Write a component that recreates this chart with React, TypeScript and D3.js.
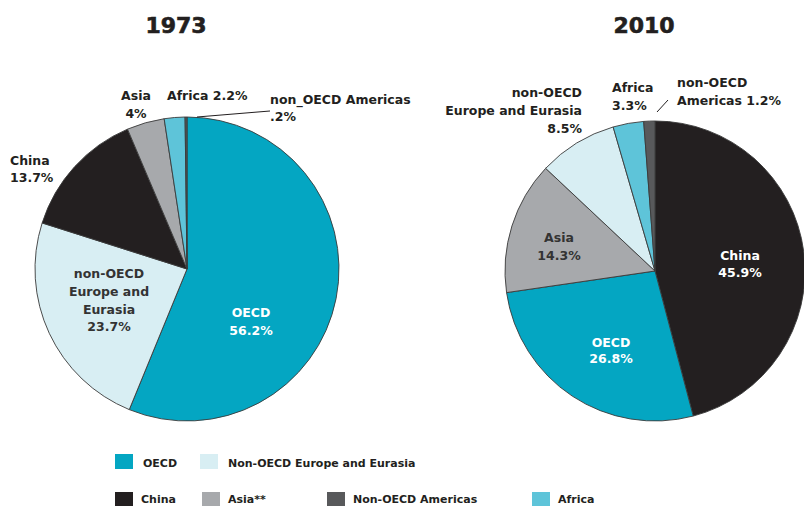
import React from 'react';
import * as d3 from 'd3';

// Data
const regions1973 = ['OECD', 'Non-OECD Europe and Eurasia', 'China', 'Asia', 'Africa', 'Non-OECD Americas'];
const shares1973 = [56.2, 23.7, 13.7, 4, 2.2, 0.2];

const regions2010 = ['China', 'OECD', 'Asia', 'Non-OECD Europe and Eurasia', 'Africa', 'Non-OECD Americas'];
const shares2010 = [45.9, 26.8, 14.3, 8.5, 3.3, 1.2];

const legendRow1 = ['OECD', 'Non-OECD Europe and Eurasia'];
const legendRow2 = ['China', 'Asia', 'Non-OECD Americas', 'Africa'];
const legendText: Record<string, string> = { Asia: 'Asia**' };

const colors: Record<string, string> = {
  'OECD': '#04a6c2',
  'Non-OECD Europe and Eurasia': '#d8eef3',
  'China': '#231f20',
  'Asia': '#a7a9ac',
  'Non-OECD Americas': '#58595b',
  'Africa': '#5ec4d9',
};

interface Label {
  lines: string[];
  dx: number;
  dy: number[];
  anchor: 'start' | 'middle' | 'end';
  fill: string;
}

const labels1973: Label[] = [
  { lines: ['Asia', '4%'], dx: -51, dy: [-169, -151], anchor: 'middle', fill: '#231f20' },
  { lines: ['Africa 2.2%'], dx: -20, dy: [-169], anchor: 'start', fill: '#231f20' },
  { lines: ['non_OECD Americas', '.2%'], dx: 83, dy: [-165, -148], anchor: 'start', fill: '#231f20' },
  { lines: ['China', '13.7%'], dx: -177, dy: [-104, -87], anchor: 'start', fill: '#231f20' },
  { lines: ['non-OECD', 'Europe and', 'Eurasia', '23.7%'], dx: -78, dy: [9, 27, 45, 62], anchor: 'middle', fill: '#333' },
  { lines: ['OECD', '56.2%'], dx: 64, dy: [48, 66], anchor: 'middle', fill: '#ffffff' },
];

const labels2010: Label[] = [
  { lines: ['non-OECD', 'Europe and Eurasia', '8.5%'], dx: -73, dy: [-174, -156, -138], anchor: 'end', fill: '#231f20' },
  { lines: ['Africa', '3.3%'], dx: -43, dy: [-179, -161], anchor: 'start', fill: '#231f20' },
  { lines: ['non-OECD', 'Americas 1.2%'], dx: 22, dy: [-184, -166], anchor: 'start', fill: '#231f20' },
  { lines: ['Asia', '14.3%'], dx: -96, dy: [-29, -11], anchor: 'middle', fill: '#333' },
  { lines: ['China', '45.9%'], dx: 85, dy: [-11, 6], anchor: 'middle', fill: '#ffffff' },
  { lines: ['OECD', '26.8%'], dx: -44, dy: [76, 92], anchor: 'middle', fill: '#ffffff' },
];

const FONT = 'DejaVu Sans, sans-serif';

const pie = d3.pie<number>().sort(null).value(d => d);

interface PieProps {
  title: string;
  regions: string[];
  shares: number[];
  cx: number;
  cy: number;
  r: number;
  labels: Label[];
  leader: [number, number, number, number]; // offsets from centre
}

const Pie: React.FC<PieProps> = ({ title, regions, shares, cx, cy, r, labels, leader }) => {
  const arc = d3.arc<d3.PieArcDatum<number>>().innerRadius(0).outerRadius(r);
  const arcs = pie(shares);
  return (
    <g>
      <text x={cx - 11} y={33} textAnchor="middle" fontFamily={FONT} fontWeight="bold"
        fontSize={22} fill="#231f20" stroke="#231f20" strokeWidth={0.6}>{title}</text>
      <g transform={`translate(${cx},${cy})`}>
        {arcs.map((a, i) => (
          <path key={i} d={arc(a) || ''} fill={colors[regions[i]]} stroke="#3a3a3a" strokeWidth={0.9} />
        ))}
        <line x1={leader[0]} y1={leader[1]} x2={leader[2]} y2={leader[3]} stroke="#231f20" strokeWidth={1} />
        {labels.map((l, i) => (
          <text key={i} textAnchor={l.anchor} fontFamily={FONT} fontWeight="bold" fontSize={12.5}
            fill={l.fill}>
            {l.lines.map((s, j) => (
              <tspan key={j} x={l.dx} y={l.dy[j]}>{s}</tspan>
            ))}
          </text>
        ))}
      </g>
    </g>
  );
};

const App: React.FC = () => {
  const sw = 18;
  const sh = 15;
  const row1X = [115, 200];
  const row2X = [115, 202, 327, 532];
  return (
    <div style={{ position: 'absolute', left: 0, top: 0 }}>
      <svg width={804} height={506} style={{ display: 'block', background: '#fff' }}>
        <Pie title="1973" regions={regions1973} shares={shares1973} cx={187} cy={269} r={152}
          labels={labels1973} leader={[10, -152, 83, -158]} />
        <Pie title="2010" regions={regions2010} shares={shares2010} cx={655} cy={271} r={150}
          labels={labels2010} leader={[2, -159, 13, -171]} />
        <g fontFamily={FONT} fontWeight="bold" fontSize={11} fill="#231f20">
          {legendRow1.map((k, i) => (
            <g key={k}>
              <rect x={row1X[i]} y={454} width={sw} height={sh} fill={colors[k]} />
              <text x={row1X[i] + 28} y={467}>{legendText[k] || k}</text>
            </g>
          ))}
          {legendRow2.map((k, i) => (
            <g key={k}>
              <rect x={row2X[i]} y={492} width={sw} height={14} fill={colors[k]} />
              <text x={row2X[i] + 26} y={503}>{legendText[k] || k}</text>
            </g>
          ))}
        </g>
      </svg>
    </div>
  );
};

export default App;
